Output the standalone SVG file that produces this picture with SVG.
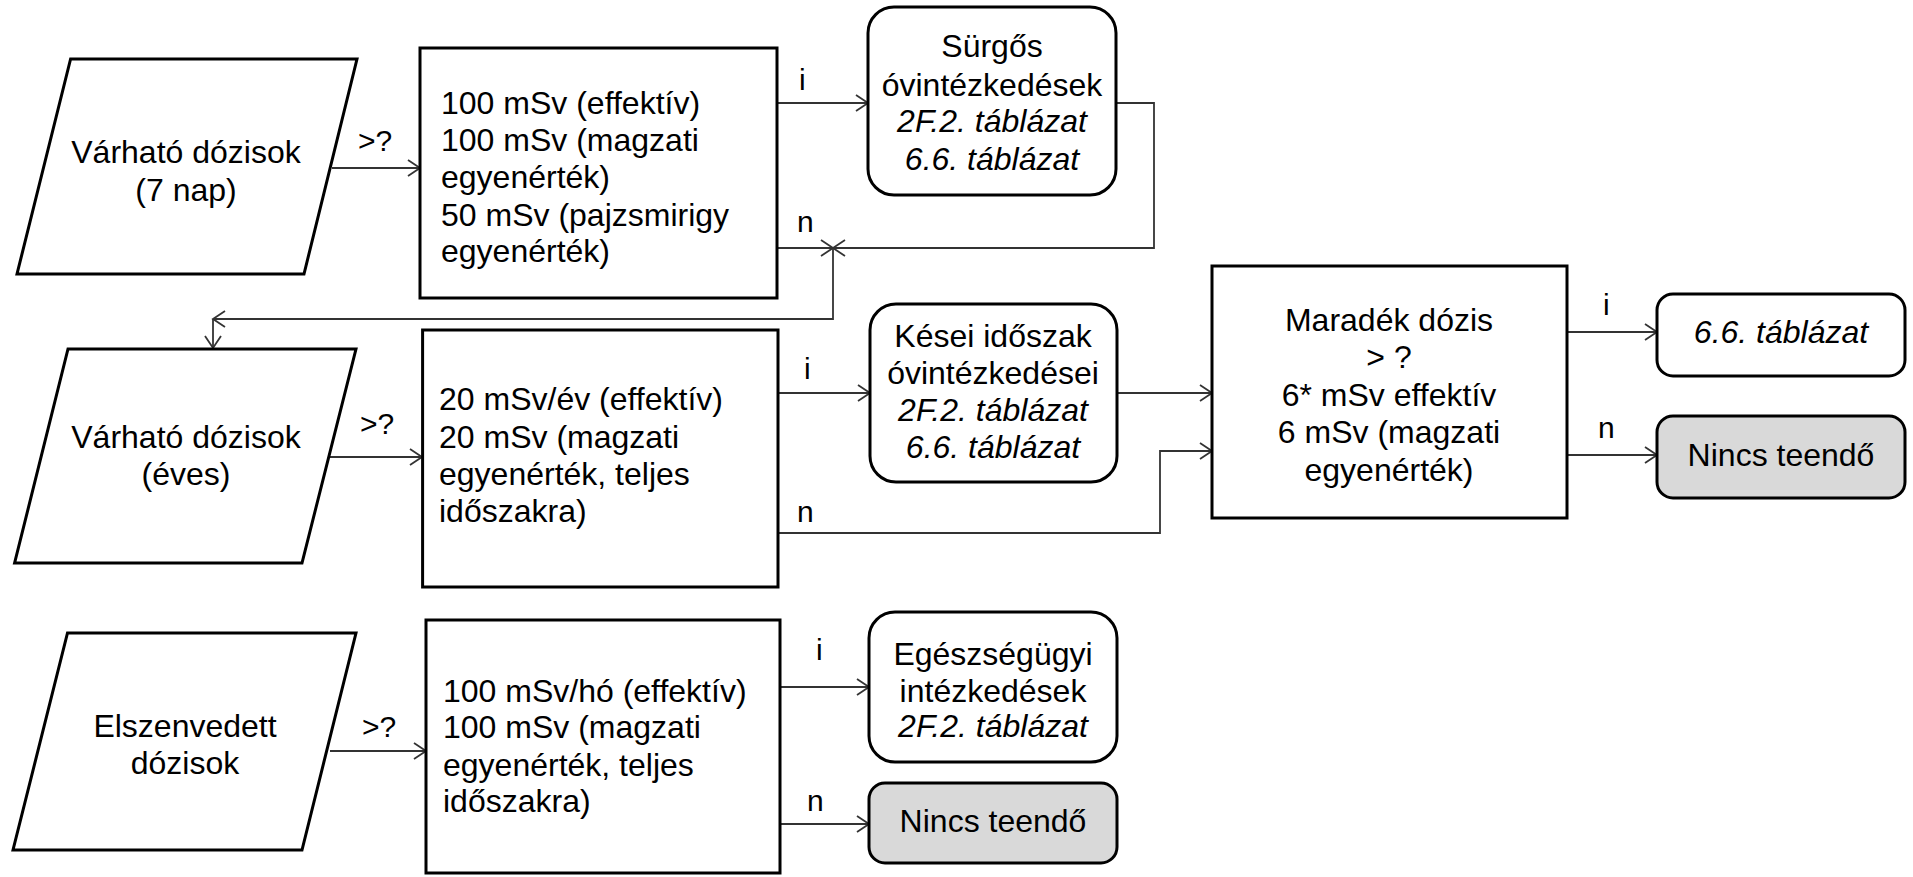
<svg xmlns="http://www.w3.org/2000/svg" width="1913" height="877" viewBox="0 0 1913 877">
<style>
text{font-family:"Liberation Sans",Arial,sans-serif;font-size:32px;fill:#000}
.c{text-anchor:middle}
.it{font-style:italic}
.lbl{font-size:30px}
.shape{fill:#fff;stroke:#000;stroke-width:3}
.grey{fill:#d9d9d9;stroke:#000;stroke-width:3}
.conn path{fill:none;stroke:#333;stroke-width:1.8}
</style>
<defs>
<marker id="arr" markerUnits="userSpaceOnUse" markerWidth="16" markerHeight="18" refX="13" refY="9" orient="auto">
<path d="M1,1 L13,9 L1,17" fill="none" stroke="#333" stroke-width="1.8"/>
</marker>
</defs>
<rect width="1913" height="877" fill="#fff"/>

<g id="connectors" class="conn">
<path d="M332,168 H420" marker-end="url(#arr)"/>
<path d="M777,103 H868" marker-end="url(#arr)"/>
<path d="M777,248 H833" marker-end="url(#arr)"/>
<path d="M1116,103 H1154 V248 H833" marker-end="url(#arr)"/>
<path d="M833,248 V319 H213" marker-end="url(#arr)"/>
<path d="M213,319 V348" marker-end="url(#arr)"/>
<path d="M330,457 H422" marker-end="url(#arr)"/>
<path d="M778,393 H870" marker-end="url(#arr)"/>
<path d="M778,533 H1160 V451 H1212" marker-end="url(#arr)"/>
<path d="M1117,393 H1212" marker-end="url(#arr)"/>
<path d="M1567,332 H1657" marker-end="url(#arr)"/>
<path d="M1567,455 H1657" marker-end="url(#arr)"/>
<path d="M330,751 H426" marker-end="url(#arr)"/>
<path d="M780,687 H869" marker-end="url(#arr)"/>
<path d="M780,824 H869" marker-end="url(#arr)"/>
<text x="358" y="151" class="lbl">&gt;?</text>
<text x="799" y="90" class="lbl">i</text>
<text x="797" y="232" class="lbl">n</text>
<text x="360" y="434" class="lbl">&gt;?</text>
<text x="804" y="379" class="lbl">i</text>
<text x="797" y="522" class="lbl">n</text>
<text x="1603" y="315" class="lbl">i</text>
<text x="1598" y="438" class="lbl">n</text>
<text x="362" y="737" class="lbl">&gt;?</text>
<text x="816" y="660" class="lbl">i</text>
<text x="807" y="811" class="lbl">n</text>
</g>

<g id="input-7nap">
<polygon class="shape" points="70.6,59 357,59 304,274 17,274"/>
<text x="186" y="163" class="c">Várható dózisok</text>
<text x="186" y="201" class="c">(7 nap)</text>
</g>

<g id="cond-7nap">
<rect class="shape" x="420" y="48" width="357" height="250"/>
<text x="441" y="114">100 mSv (effektív)</text>
<text x="441" y="151">100 mSv (magzati</text>
<text x="441" y="188">egyenérték)</text>
<text x="441" y="226">50 mSv (pajzsmirigy</text>
<text x="441" y="262">egyenérték)</text>
</g>

<g id="surgos">
<rect class="shape" x="868" y="7" width="248" height="188" rx="26" ry="26"/>
<text x="992" y="57" class="c">Sürgős</text>
<text x="992" y="96" class="c">óvintézkedések</text>
<text x="992" y="132" class="c it">2F.2. táblázat</text>
<text x="992" y="170" class="c it">6.6. táblázat</text>
</g>

<g id="input-eves">
<polygon class="shape" points="68,349 356,349 302,563 14.6,563"/>
<text x="186" y="448" class="c">Várható dózisok</text>
<text x="186" y="485" class="c">(éves)</text>
</g>

<g id="cond-eves">
<rect class="shape" x="422.6" y="330" width="355.4" height="257"/>
<text x="439" y="410">20 mSv/év (effektív)</text>
<text x="439" y="448">20 mSv (magzati</text>
<text x="439" y="485">egyenérték, teljes</text>
<text x="439" y="522">időszakra)</text>
</g>

<g id="kesei">
<rect class="shape" x="870" y="304" width="247" height="178" rx="26" ry="26"/>
<text x="993" y="347" class="c">Kései időszak</text>
<text x="993" y="384" class="c">óvintézkedései</text>
<text x="993" y="421" class="c it">2F.2. táblázat</text>
<text x="993" y="458" class="c it">6.6. táblázat</text>
</g>

<g id="maradek">
<rect class="shape" x="1212" y="266" width="355" height="252"/>
<text x="1389" y="331" class="c">Maradék dózis</text>
<text x="1389" y="368" class="c">&gt; ?</text>
<text x="1389" y="406" class="c">6* mSv effektív</text>
<text x="1389" y="443" class="c">6 mSv (magzati</text>
<text x="1389" y="481" class="c">egyenérték)</text>
</g>

<g id="tablazat66">
<rect class="shape" x="1657" y="294" width="248" height="82" rx="16" ry="16"/>
<text x="1781" y="343" class="c it">6.6. táblázat</text>
</g>

<g id="nincs1">
<rect class="grey" x="1657" y="416" width="248" height="82" rx="16" ry="16"/>
<text x="1781" y="466" class="c">Nincs teendő</text>
</g>

<g id="input-elszenvedett">
<polygon class="shape" points="67.5,633 356,633 302,850 13,850"/>
<text x="185" y="737" class="c">Elszenvedett</text>
<text x="185" y="774" class="c">dózisok</text>
</g>

<g id="cond-elszenvedett">
<rect class="shape" x="426" y="620" width="354" height="253"/>
<text x="443" y="702">100 mSv/hó (effektív)</text>
<text x="443" y="738">100 mSv (magzati</text>
<text x="443" y="776">egyenérték, teljes</text>
<text x="443" y="812">időszakra)</text>
</g>

<g id="egeszsegugyi">
<rect class="shape" x="869" y="612" width="248" height="150" rx="26" ry="26"/>
<text x="993" y="665" class="c">Egészségügyi</text>
<text x="993" y="702" class="c">intézkedések</text>
<text x="993" y="737" class="c it">2F.2. táblázat</text>
</g>

<g id="nincs2">
<rect class="grey" x="869" y="783" width="248" height="80" rx="16" ry="16"/>
<text x="993" y="832" class="c">Nincs teendő</text>
</g>
</svg>
